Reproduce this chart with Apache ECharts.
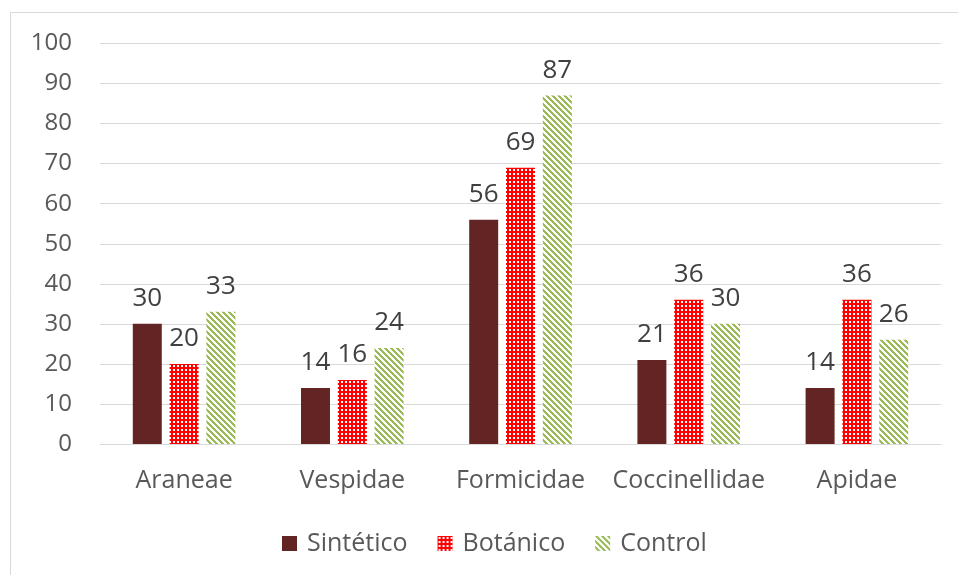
<!DOCTYPE html>
<html>
<head>
<meta charset="utf-8">
<script src="https://cdn.jsdelivr.net/npm/echarts@6/dist/echarts.min.js"></script>
<style>
  html, body { margin: 0; padding: 0; background: #fff; }
  #chart { width: 958px; height: 575px; }
</style>
</head>
<body>
<div id="chart"></div>
<script>
// Insect family counts per treatment
const categories = ['Araneae', 'Vespidae', 'Formicidae', 'Coccinellidae', 'Apidae'];
const seriesNames = ['Sintético', 'Botánico', 'Control'];
const sinteticoValues = [30, 14, 56, 21, 14];
const botanicoValues = [20, 16, 69, 36, 36];
const controlValues = [33, 24, 87, 30, 26];
const yTicks = [0, 10, 20, 30, 40, 50, 60, 70, 80, 90, 100];

const FONT = '"Open Sans", "Noto Sans", sans-serif';

// Small white-dot grid on red
function dotPattern() {
  const c = document.createElement('canvas');
  c.width = 4; c.height = 4;
  const g = c.getContext('2d');
  g.fillStyle = '#ff0000';
  g.fillRect(0, 0, 4, 4);
  g.fillStyle = '#ffffff';
  g.fillRect(1, 1, 2, 2);
  return c;
}

// Wide downward diagonal stripes in green
function stripePattern() {
  const n = 6;
  const c = document.createElement('canvas');
  c.width = n; c.height = n;
  const g = c.getContext('2d');
  g.fillStyle = '#ffffff';
  g.fillRect(0, 0, n, n);
  g.fillStyle = '#9bbb59';
  for (let y = 0; y < n; y++) {
    for (let x = 0; x < n; x++) {
      if (((x - y) % n + n) % n < 3) g.fillRect(x, y, 1, 1);
    }
  }
  return c;
}

const fills = [
  '#632523',
  { image: dotPattern(), repeat: 'repeat' },
  { image: stripePattern(), repeat: 'repeat' }
];
const values = [sinteticoValues, botanicoValues, controlValues];

const chart = echarts.init(document.getElementById('chart'), null, { renderer: 'canvas' });

chart.setOption({
  animation: false,
  backgroundColor: '#ffffff',
  graphic: [{
    type: 'rect',
    shape: { x: 10.5, y: 12.5, width: 960, height: 580 },
    style: { fill: 'none', stroke: '#d9d9d9', lineWidth: 1 },
    silent: true
  }],
  grid: { left: 100, right: 17, top: 43.5, bottom: 131, containLabel: false },
  legend: {
    bottom: 14,
    left: 277,
    itemWidth: 15,
    itemHeight: 15,
    itemGap: 30,
    icon: 'rect',
    textStyle: { fontFamily: FONT, fontSize: 25, color: '#595959', padding: [0, 0, 0, 5] },
    data: seriesNames
  },
  xAxis: {
    type: 'category',
    data: categories,
    axisLine: { show: true, lineStyle: { color: '#d9d9d9', width: 1 } },
    axisTick: { show: false },
    axisLabel: { interval: 0, fontFamily: FONT, fontSize: 25, color: '#595959', margin: 24 }
  },
  yAxis: {
    type: 'value',
    min: yTicks[0],
    max: yTicks[yTicks.length - 1],
    interval: 10,
    axisLine: { show: false },
    axisTick: { show: false },
    splitLine: { lineStyle: { color: '#d9d9d9', width: 1 } },
    axisLabel: { fontFamily: FONT, fontSize: 24, color: '#595959', margin: 28 }
  },
  series: seriesNames.map((name, i) => ({
    name,
    type: 'bar',
    data: values[i],
    barGap: '27%',
    barCategoryGap: '39%',
    itemStyle: { color: fills[i] },
    label: {
      show: true,
      position: 'top',
      distance: 12,
      fontFamily: FONT,
      fontSize: 26,
      color: '#404040'
    }
  }))
});
</script>
</body>
</html>
